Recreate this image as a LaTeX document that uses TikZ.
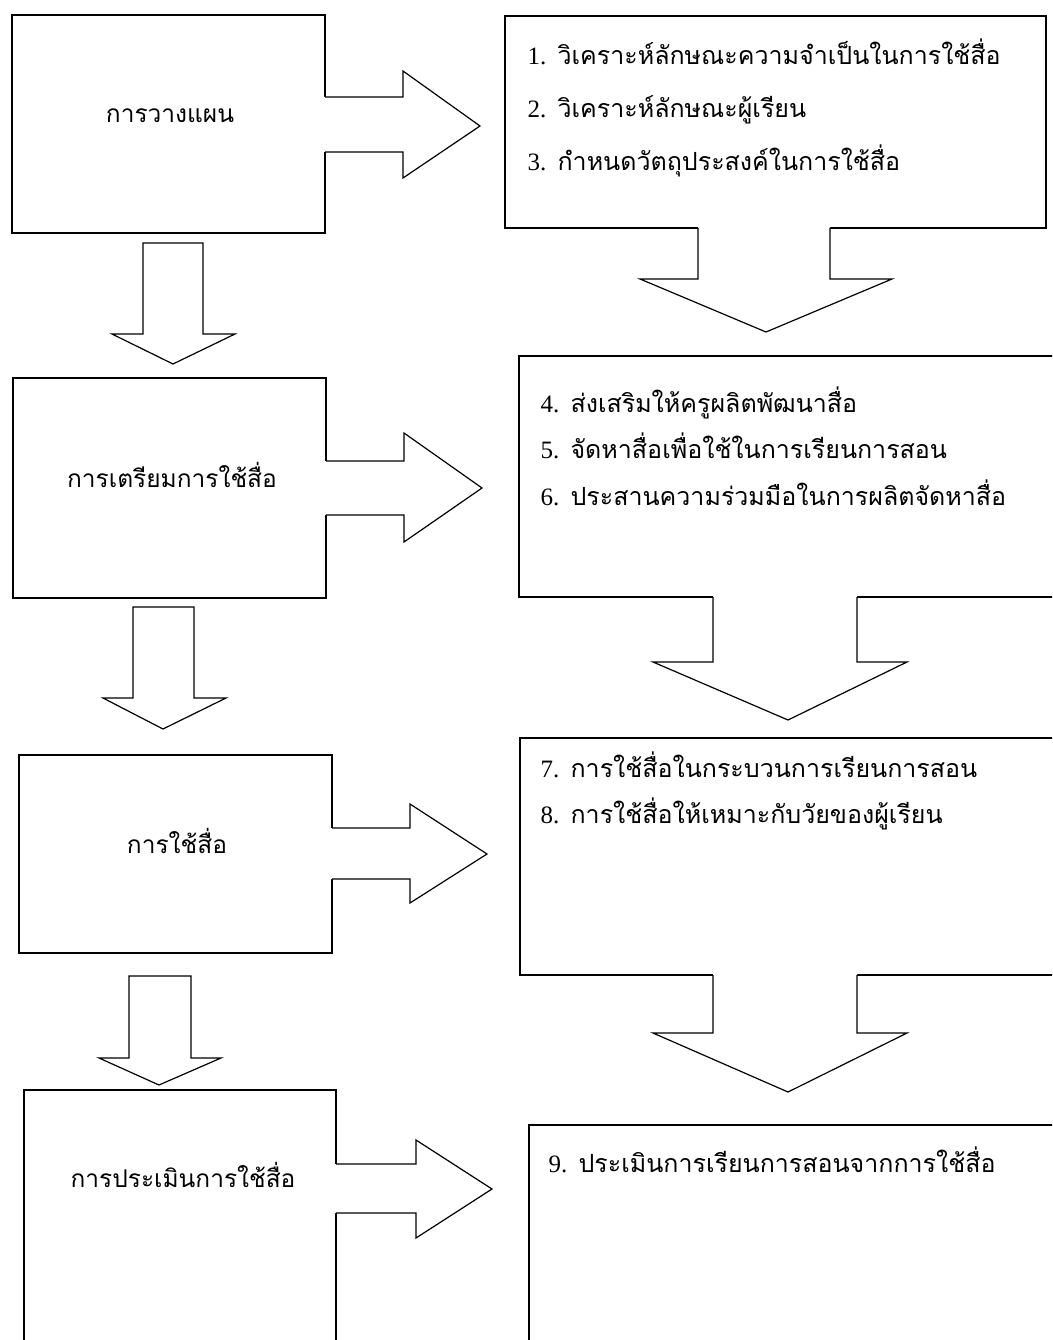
\documentclass[tikz,border=0pt]{standalone}
\usepackage{fontspec}
\newfontfamily\thaifont[Script=Thai]{Loma}
\newfontfamily\numfont{Liberation Serif}
\newcommand\rightblock[8]{%
  \path (#1.east |- 0,#2) coordinate (rs1) (#1.east |- 0,#3) coordinate (rs2);
  \fill[white] ([xshift=-1.5pt]rs1) -- (#4,#2) -- (#4,#5) -- (#7,#8) -- (#4,#6) -- (#4,#3) -- ([xshift=-1.5pt]rs2) -- cycle;
  \draw[blk] (rs1) -- (#4,#2) -- (#4,#5) -- (#7,#8) -- (#4,#6) -- (#4,#3) -- (rs2);
}
\newcommand\downopen[8]{%
  \path (#2,0 |- #1.south) coordinate (ds1) (#3,0 |- #1.south) coordinate (ds2);
  \fill[white] ([yshift=1.5pt]ds1) -- (#2,#4) -- (#5,#4) -- (#7,#8) -- (#6,#4) -- (#3,#4) -- ([yshift=1.5pt]ds2) -- cycle;
  \draw[blk] (ds1) -- (#2,#4) -- (#5,#4) -- (#7,#8) -- (#6,#4) -- (#3,#4) -- (ds2);
}
\newcommand\downclosed[8]{%
  \draw[blk, fill=white] (#2,#1) -- (#2,#4) -- (#5,#4) -- (#7,#8) -- (#6,#4) -- (#3,#4) -- (#3,#1) -- cycle;
}
\begin{document}
\begin{tikzpicture}[x=1pt,y=-1pt, line width=1.2pt,
  box/.style={draw=black, fill=white, rectangle, inner sep=0pt, outer sep=0pt, anchor=north west},
  blk/.style={draw=black, line join=miter},
  lbl/.style={font=\thaifont\fontsize{24.5}{28}\selectfont, inner sep=0pt, anchor=base},
  item/.style={font=\thaifont\fontsize{25}{29}\selectfont, inner sep=0pt, anchor=base west},
]
\useasboundingbox (0,0) rectangle (1052,1340);
\fill[white] (0,0) rectangle (1052,1340);
\clip (0,0) rectangle (1052,1340);

% left column boxes
\node[box, minimum width=313pt, minimum height=218pt] (b1) at (12,15) {};
\node[box, minimum width=313pt, minimum height=220pt] (b2) at (13,378) {};
\node[box, minimum width=313pt, minimum height=198pt] (b3) at (19,755) {};
\node[box, minimum width=312pt, minimum height=300pt] (b4) at (24,1090) {};

% right column boxes
\node[box, minimum width=541pt, minimum height=212pt] (r1) at (505,16) {};
\node[box, minimum width=560pt, minimum height=241pt] (r2) at (519,356) {};
\node[box, minimum width=560pt, minimum height=237pt] (r3) at (520,738) {};
\node[box, minimum width=560pt, minimum height=300pt] (r4) at (529,1125) {};

% right block arrows from left boxes
\rightblock{b1}{97}{152}{403}{71}{178}{480}{126}
\rightblock{b2}{461}{515}{404}{433}{542}{482}{488}
\rightblock{b3}{828}{879}{410}{804}{903}{487}{854}
\rightblock{b4}{1164}{1213}{416}{1140}{1238}{492}{1189}

% down block arrows, left column
\downclosed{243}{143}{203}{334}{112}{235}{173}{364}
\downclosed{607}{133}{194}{698}{103}{226}{163}{729}
\downclosed{976}{129}{191}{1058}{99}{221}{159}{1085}

% down block arrows, right column
\downopen{r1}{698}{830}{279}{640}{892}{766}{332}
\downopen{r2}{713}{857}{662}{653}{907}{788}{720}
\downopen{r3}{713}{857}{1033}{653}{907}{788}{1092}

% labels
\node[lbl] (t1) at (170,123) {การวางแผน};
\node[lbl] (t2) at (172,487) {การเตรียมการใช้สื่อ};
\node[lbl] (t3) at (177,853) {การใช้สื่อ};
\node[lbl] (t4) at (183,1187) {การประเมินการใช้สื่อ};

\node[item] (i1) at (527,65) {{\numfont 1.} วิเคราะห์ลักษณะความจำเป็นในการใช้สื่อ};
\node[item] (i2) at (527,118) {{\numfont 2.} วิเคราะห์ลักษณะผู้เรียน};
\node[item] (i3) at (527,171) {{\numfont 3.} กำหนดวัตถุประสงค์ในการใช้สื่อ};
\node[item] (i4) at (540,412) {{\numfont 4.} ส่งเสริมให้ครูผลิตพัฒนาสื่อ};
\node[item] (i5) at (540,458) {{\numfont 5.} จัดหาสื่อเพื่อใช้ในการเรียนการสอน};
\node[item] (i6) at (540,505) {{\numfont 6.} ประสานความร่วมมือในการผลิตจัดหาสื่อ};
\node[item] (i7) at (540,777) {{\numfont 7.} การใช้สื่อในกระบวนการเรียนการสอน};
\node[item] (i8) at (540,823) {{\numfont 8.} การใช้สื่อให้เหมาะกับวัยของผู้เรียน};
\node[item] (i9) at (548,1172) {{\numfont 9.} ประเมินการเรียนการสอนจากการใช้สื่อ};
\end{tikzpicture}
\end{document}
